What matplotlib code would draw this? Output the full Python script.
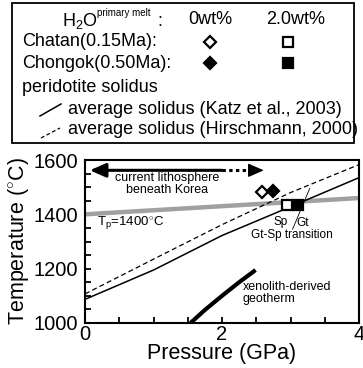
import numpy as np
import matplotlib
matplotlib.use('Agg')
import matplotlib.pyplot as plt
from matplotlib.patches import Rectangle

plt.rcParams['font.family'] = ['Liberation Sans', 'DejaVu Sans']
plt.rcParams['mathtext.fontset'] = 'custom'
plt.rcParams['mathtext.rm'] = 'Liberation Sans'
plt.rcParams['mathtext.it'] = 'Liberation Sans:italic'

# peridotite solidi (P in GPa, T in degC)
katz_p = [0, 1, 2, 3, 4]
katz_t = [1087, 1195, 1322, 1428, 1535]
hirsch_p = [0, 1, 2, 3, 4]
hirsch_t = [1107, 1235, 1362, 1480, 1583]

# mantle adiabat, Tp = 1400 degC
adiabat_p = [0, 4]
adiabat_t = [1400, 1460]

# xenolith-derived geotherm
geo_p = [1.54, 1.75, 2.0, 2.25, 2.49]
geo_t = [1000, 1048, 1100, 1150, 1195]

# primary melt P-T, order: Chatan, Chongok
dry_p = [2.59, 2.74]   # 0 wt% H2O
dry_t = [1483, 1485]
wet_p = [2.95, 3.11]   # 2.0 wt% H2O
wet_t = [1434, 1434]

# Gt-Sp transition marker
trans_p = [3.03, 3.28]
trans_t = [1345, 1495]

# current lithosphere extent (solid = known, dotted = uncertain)
litho_t = 1562
litho_solid = [0.07, 2.0]
litho_dotted = [2.0, 2.61]

W, H = 363, 368
fig = plt.figure(figsize=(W / 100, H / 100), dpi=100)
fig.patch.set_facecolor('white')

# key panel drawn in pixel units
lax = fig.add_axes([0, 0, 1, 1])
lax.set_xlim(0, W)
lax.set_ylim(H, 0)
lax.axis('off')
lax.add_patch(Rectangle((12, 3), 342, 140, fill=False, lw=1.3, ec='k'))
fs_key = 13
lax.text(62, 21, r'H$_2$O', fontsize=fs_key, va='center', ha='left')
lax.text(97, 13, 'primary melt', fontsize=7, va='center', ha='left')
lax.text(157, 21, ':', fontsize=fs_key, va='center', ha='left')
lax.text(210, 20, '0wt%', fontsize=fs_key, va='center', ha='center')
lax.text(296, 20, '2.0wt%', fontsize=fs_key, va='center', ha='center')
lax.text(22, 42, 'Chatan(0.15Ma):', fontsize=fs_key, va='center')
lax.text(22, 63, 'Chongok(0.50Ma):', fontsize=fs_key, va='center')
lax.plot([210], [42], 'D', ms=6, mfc='white', mec='k', mew=1.6)
lax.plot([288], [42], 's', ms=7, mfc='white', mec='k', mew=1.6)
lax.plot([210], [63], 'D', ms=6, mfc='k', mec='k', mew=1.6)
lax.plot([288], [63], 's', ms=7, mfc='k', mec='k', mew=1.6)
lax.text(22, 88, 'peridotite solidus', fontsize=fs_key, va='center')
lax.plot([40, 61], [116, 104], color='k', lw=1.1)
lax.plot([41, 60], [138, 128], color='k', lw=0.9, dashes=(3, 2))
lax.text(68, 109, 'average solidus (Katz et al., 2003)', fontsize=fs_key,
         va='center')
lax.text(68, 129, 'average solidus (Hirschmann, 2000)', fontsize=fs_key,
         va='center')

ax = fig.add_axes([85 / W, 45 / H, 274 / W, 163 / H])
ax.set_xlim(0, 4)
ax.set_ylim(1000, 1600)

ax.plot(adiabat_p, adiabat_t, color='#a0a0a0', lw=3.2, solid_capstyle='butt',
        zorder=2)
ax.plot(katz_p, katz_t, color='k', lw=1.1, zorder=3)
ax.plot(hirsch_p, hirsch_t, color='k', lw=0.9, dashes=(4, 2.5), zorder=3)
ax.plot(geo_p, geo_t, color='k', lw=3.0, solid_capstyle='butt', zorder=3)
ax.plot(trans_p, trans_t, color='k', lw=0.6, zorder=3)

ax.plot(dry_p[:1], dry_t[:1], 'D', ms=6, mfc='white', mec='k', mew=1.6,
        zorder=5)
ax.plot(dry_p[1:], dry_t[1:], 'D', ms=6, mfc='k', mec='k', mew=1.6, zorder=5)
ax.plot(wet_p[:1], wet_t[:1], 's', ms=7, mfc='white', mec='k', mew=1.6,
        zorder=5)
ax.plot(wet_p[1:], wet_t[1:], 's', ms=7, mfc='k', mec='k', mew=1.6, zorder=5)

# lithosphere arrow
ax.annotate('', xy=(litho_solid[0], litho_t), xytext=(litho_solid[1], litho_t),
            arrowprops=dict(arrowstyle='-|>,head_length=0.8,head_width=0.35',
                            lw=2.2, color='k', shrinkA=0, shrinkB=0,
                            mutation_scale=12))
ax.plot([litho_dotted[0], litho_dotted[1] - 0.12], [litho_t, litho_t],
        color='k', lw=2.2, dashes=(1.1, 1.1), solid_capstyle='butt')
ax.annotate('', xy=(litho_dotted[1], litho_t),
            xytext=(litho_dotted[1] - 0.14, litho_t),
            arrowprops=dict(arrowstyle='-|>,head_length=0.8,head_width=0.35',
                            lw=1.0, color='k', shrinkA=0, shrinkB=0,
                            mutation_scale=12))

fs_in = 9
ax.text(1.2, 1512, 'current lithosphere\nbeneath Korea', fontsize=fs_in,
        ha='center', va='center', linespacing=1.0)
ax.text(0.18, 1368, r'T$_{\mathrm{p}}$=1400$^{\circ}$C', fontsize=9.5,
        ha='left', va='center')
ax.text(2.86, 1372, 'Sp', fontsize=8.5, ha='center', va='center')
ax.text(3.18, 1368, 'Gt', fontsize=8.5, ha='center', va='center')
ax.text(3.02, 1324, 'Gt-Sp transition', fontsize=8.5, ha='center',
        va='center')
ax.text(2.3, 1112, 'xenolith-derived\ngeotherm', fontsize=fs_in, ha='left',
        va='center', linespacing=1.0)

ax.set_xticks([0, 2, 4])
ax.set_xticks(np.arange(0, 4.01, 0.5), minor=True)
ax.set_yticks([1000, 1200, 1400, 1600])
ax.set_yticks(np.arange(1000, 1601, 50), minor=True)
ax.tick_params(which='both', direction='in', length=4.5, width=1.3,
               top=False, right=False, labelsize=14.5)
ax.tick_params(axis='x', pad=1.5)
ax.tick_params(axis='y', pad=5)
for s in ax.spines.values():
    s.set_linewidth(1.5)

ax.set_xlabel('Pressure (GPa)', fontsize=15.5, labelpad=-1)
ax.set_ylabel(r'Temperature ($^{\circ}$C)', fontsize=15.5, labelpad=2)

fig.savefig('out.png', dpi=100, facecolor='white')
